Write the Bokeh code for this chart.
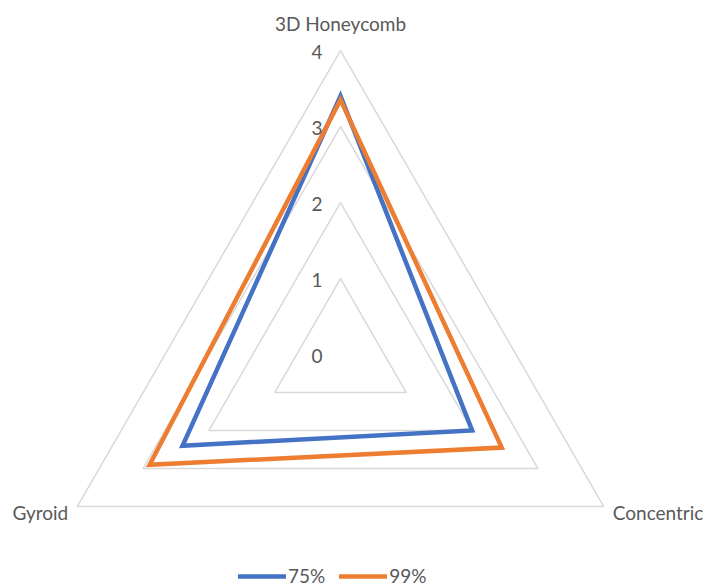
import numpy as np
from bokeh.plotting import figure
from bokeh.models import Range1d, Legend, LegendItem
from bokeh.core.properties import value
from bokeh.embed import file_html
from bokeh.resources import INLINE

# Radar chart: three infill patterns, two infill densities
categories = ["3D Honeycomb", "Concentric", "Gyroid"]
series_names = ["75%", "99%"]
values_75 = [3.4, 2.0, 2.4]
values_99 = [3.35, 2.45, 2.9]
ring_levels = [1, 2, 3, 4]
tick_labels = ["0", "1", "2", "3", "4"]

colors = {"75%": "#4472C4", "99%": "#ED7D31"}
grid_color = "#D9D9D9"
text_color = "#595959"
font = "Lato"
fsize = "19px"

W, H = 703, 586
unit = 76.0            # pixels per value unit
cx, cy = 340.0, 354.0  # centre of the radar in page pixels

# category angles: first axis straight up, clockwise
angles = np.pi / 2 - np.arange(len(categories)) * 2 * np.pi / len(categories)


def to_xy(vals):
    vals = np.asarray(vals, dtype=float)
    return vals * np.cos(angles), vals * np.sin(angles)


p = figure(width=W, height=H, output_backend="svg", toolbar_location=None,
           x_range=Range1d(-cx / unit, (W - cx) / unit),
           y_range=Range1d(-(H - cy) / unit, cy / unit),
           min_border=0)
p.axis.visible = False
p.grid.visible = False
p.outline_line_color = None
p.background_fill_color = "white"
p.border_fill_color = "white"

# concentric triangular grid
for lvl in ring_levels:
    gx, gy = to_xy([lvl] * len(categories))
    p.patch(list(gx), list(gy), fill_color=None, line_color=grid_color, line_width=1.5)

# series outlines, plus off-canvas line renderers used as legend keys
legend_items = []
for name, vals in zip(series_names, [values_75, values_99]):
    sx, sy = to_xy(vals)
    p.patch(list(sx), list(sy), fill_color=None, line_color=colors[name],
            line_width=4.5, line_join="miter")
    key = p.line(x=[50, 51], y=[50, 51], line_color=colors[name], line_width=4.5,
                 line_cap="round")
    legend_items.append(LegendItem(label=name, renderers=[key]))

# value axis labels along the vertical axis
tick_vals = [0, 1, 2, 3, 4]
p.text(x=[0] * len(tick_vals), y=tick_vals, text=tick_labels,
       text_align="right", text_baseline="middle", x_offset=-18, y_offset=1,
       text_font=value(font), text_font_size=fsize, text_color=text_color)

# category labels
lab_r = 4.0
lx, ly = to_xy([lab_r] * len(categories))
p.text(x=[lx[0]], y=[ly[0]], text=[categories[0]], text_align="center", text_baseline="middle",
       y_offset=-27, text_font=value(font), text_font_size=fsize, text_color=text_color)
p.text(x=[lx[1]], y=[ly[1]], text=[categories[1]], text_align="left", text_baseline="middle",
       x_offset=9, y_offset=6, text_font=value(font), text_font_size=fsize, text_color=text_color)
p.text(x=[lx[2]], y=[ly[2]], text=[categories[2]], text_align="right", text_baseline="middle",
       x_offset=-9, y_offset=6, text_font=value(font), text_font_size=fsize, text_color=text_color)

legend = Legend(items=legend_items, orientation="horizontal", location=(238, -1),
                glyph_width=48, glyph_height=14, label_standoff=2, spacing=14,
                padding=0, margin=0, border_line_alpha=0, background_fill_alpha=0,
                label_text_font=font, label_text_font_size=fsize, label_text_color=text_color)
p.add_layout(legend, "center")

open("out.html", "w").write(file_html(p, INLINE))
